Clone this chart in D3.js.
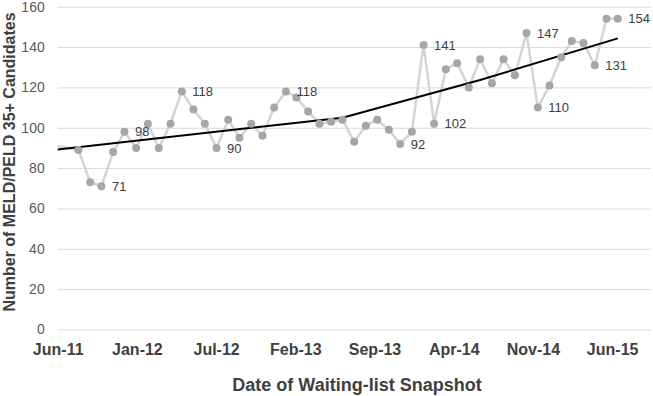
<!DOCTYPE html>
<html>
<head>
<meta charset="utf-8">
<script src="https://cdn.jsdelivr.net/npm/d3@7"></script>
<style>
  body { margin: 0; background: #fff; }
  text { font-family: "Liberation Sans", Arial, sans-serif; }
</style>
</head>
<body>
<div id="chart"></div>
<script>
// waiting-list snapshot dates (first one sits on the axis start) and counts
const snapshotDates = [
  '2011-06-06', '2011-07-31', '2011-08-31', '2011-09-30', '2011-10-31', '2011-11-30', '2011-12-31',
  '2012-01-31', '2012-02-29', '2012-03-31', '2012-04-30', '2012-05-31', '2012-06-30',
  '2012-07-31', '2012-08-31', '2012-09-30', '2012-10-31', '2012-11-30', '2012-12-31',
  '2013-01-31', '2013-02-28', '2013-03-31', '2013-04-30', '2013-05-31', '2013-06-30',
  '2013-07-31', '2013-08-31', '2013-09-30', '2013-10-31', '2013-11-30', '2013-12-31',
  '2014-01-31', '2014-02-28', '2014-03-31', '2014-04-30', '2014-05-31', '2014-06-30',
  '2014-07-31', '2014-08-31', '2014-09-30', '2014-10-31', '2014-11-30', '2014-12-31',
  '2015-01-31', '2015-02-28', '2015-03-31', '2015-04-30', '2015-05-31', '2015-06-30'
]
const candidates = [
  91, 89, 73, 71, 88, 98, 90,
  102, 90, 102, 118, 109, 102,
  90, 104, 95, 102, 96, 110,
  118, 115, 108, 102, 103, 104,
  93, 101, 104, 99, 92, 98,
  141, 102, 129, 132, 120, 134,
  122, 134, 126, 147, 110, 121,
  135, 143, 142, 131, 154, 154
]
// points that carry a value label
const labeledDates = ['2011-09-30', '2011-11-30', '2012-04-30', '2012-07-31', '2013-01-31', '2013-11-30',
  '2014-01-31', '2014-02-28', '2014-10-31', '2014-11-30', '2015-04-30', '2015-06-30']

// segmented trend line
const trendDates = ['2011-06-06', '2013-06-30', '2014-06-30', '2015-06-30']
const trendValues = [89.2, 105, 123.7, 144.3]

const xTickDates = ['2011-06-06', '2012-01-02', '2012-07-30', '2013-02-25',
  '2013-09-23', '2014-04-21', '2014-11-17', '2015-06-15']
const xTickLabels = ['Jun-11', 'Jan-12', 'Jul-12', 'Feb-13', 'Sep-13', 'Apr-14', 'Nov-14', 'Jun-15']
const yTicks = [0, 20, 40, 60, 80, 100, 120, 140, 160]

const parse = d3.timeParse('%Y-%m-%d')
const width = 653, height = 396
const margin = { top: 6.7, right: 2, bottom: 66.5, left: 57.7 }

const data = snapshotDates.map((d, i) => ({ date: parse(d), value: candidates[i], key: d }))
const trend = trendDates.map((d, i) => ({ date: parse(d), value: trendValues[i] }))

const svg = d3.select('#chart')
  .append('svg')
    .attr('width', width)
    .attr('height', height)

const x = d3.scaleTime()
  .domain([parse('2011-06-06'), parse('2015-09-26')])
  .range([margin.left, width - margin.right])

const y = d3.scaleLinear()
  .domain([0, 160])
  .range([height - margin.bottom, margin.top])

// horizontal gridlines + y labels
const yAxis = svg.append('g')
  .attr('transform', `translate(${margin.left},0)`)
  .call(d3.axisLeft(y).tickValues(yTicks).tickSize(-(width - margin.right - margin.left)).tickPadding(13))
yAxis.select('.domain').remove()
yAxis.selectAll('.tick line').attr('stroke', '#d9d9d9').attr('stroke-width', 1)
yAxis.selectAll('.tick text')
  .attr('fill', '#595959')
  .style('font-size', '14px')

// x labels, no ticks
const xAxis = svg.append('g')
  .attr('transform', `translate(0,${height - margin.bottom})`)
  .call(d3.axisBottom(x)
    .tickValues(xTickDates.map(parse))
    .tickFormat((d, i) => xTickLabels[i])
    .tickSize(0)
    .tickPadding(14))
xAxis.select('.domain').remove()
xAxis.selectAll('.tick text')
  .attr('fill', '#404040')
  .style('font-size', '16px')
  .style('font-weight', 'bold')

// data line
const line = d3.line().x(d => x(d.date)).y(d => y(d.value))
svg.append('path')
  .datum(data)
  .attr('fill', 'none')
  .attr('stroke', '#d4d4d4')
  .attr('stroke-width', 2.5)
  .attr('d', line)

// trend
svg.append('path')
  .datum(trend)
  .attr('fill', 'none')
  .attr('stroke', '#000')
  .attr('stroke-width', 2)
  .attr('d', line)

// markers (the first snapshot has none in the original)
svg.selectAll('circle')
  .data(data.slice(1))
  .enter()
  .append('circle')
    .attr('cx', d => x(d.date))
    .attr('cy', d => y(d.value))
    .attr('r', 4)
    .attr('fill', '#a6a6a6')

svg.selectAll('text.value')
  .data(data.filter(d => labeledDates.includes(d.key)))
  .enter()
  .append('text')
    .attr('class', 'value')
    .attr('x', d => x(d.date) + 10.5)
    .attr('y', d => y(d.value))
    .attr('dy', '0.36em')
    .attr('fill', '#404040')
    .style('font-size', '13px')
    .text(d => d.value)

// axis titles
svg.append('text')
  .attr('x', 357)
  .attr('y', 390.7)
  .attr('text-anchor', 'middle')
  .attr('fill', '#404040')
  .style('font-size', '18px')
  .style('font-weight', 'bold')
  .text('Date of Waiting-list Snapshot')

svg.append('text')
  .attr('transform', 'translate(14.5,162) rotate(-90)')
  .attr('text-anchor', 'middle')
  .attr('fill', '#404040')
  .style('font-size', '16px')
  .style('font-weight', 'bold')
  .text('Number of MELD/PELD 35+ Candidates')
</script>
</body>
</html>
